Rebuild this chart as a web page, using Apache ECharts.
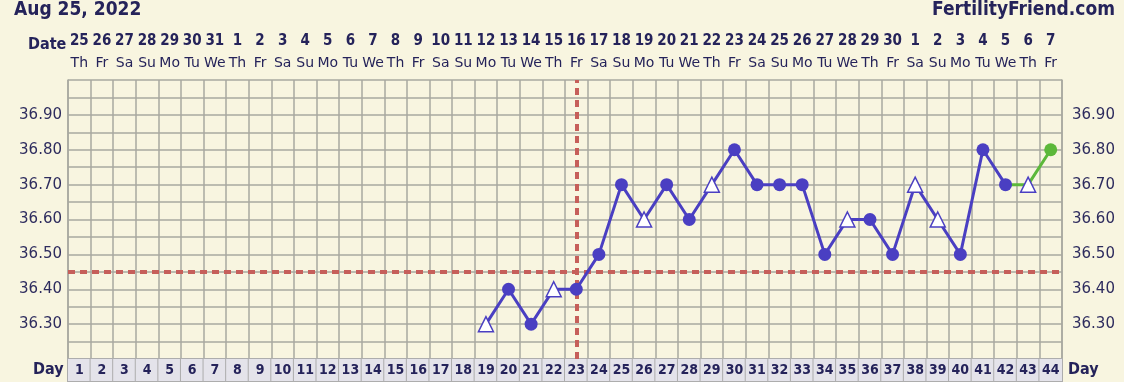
<!DOCTYPE html>
<html>
<head>
<meta charset="utf-8">
<script src="https://cdn.jsdelivr.net/npm/echarts@6/dist/echarts.min.js"></script>
<style>
html,body{margin:0;padding:0;background:#f8f5e0;}
#c{width:1124px;height:382px;}
</style>
</head>
<body>
<div id="c"></div>
<script>
var days = ['1','2','3','4','5','6','7','8','9','10','11','12','13','14','15','16','17','18','19','20','21','22','23','24','25','26','27','28','29','30','31','32','33','34','35','36','37','38','39','40','41','42','43','44'];
var dates = ['25','26','27','28','29','30','31','1','2','3','4','5','6','7','8','9','10','11','12','13','14','15','16','17','18','19','20','21','22','23','24','25','26','27','28','29','30','1','2','3','4','5','6','7'];
var weekdays = ['Th','Fr','Sa','Su','Mo','Tu','We','Th','Fr','Sa','Su','Mo','Tu','We','Th','Fr','Sa','Su','Mo','Tu','We','Th','Fr','Sa','Su','Mo','Tu','We','Th','Fr','Sa','Su','Mo','Tu','We','Th','Fr','Sa','Su','Mo','Tu','We','Th','Fr'];
// temperatures for days 1..44 (null = no reading)
var temps = [null,null,null,null,null,null,null,null,null,null,null,null,null,null,null,null,null,null,
  36.30,36.40,36.30,36.40,36.40,36.50,36.70,36.60,36.70,36.60,36.70,36.80,36.70,36.70,36.70,36.50,36.60,36.60,36.50,36.70,36.60,36.50,36.80,36.70,36.70,36.80];
// marker kind: C = filled circle, T = open triangle
var kinds = [null,null,null,null,null,null,null,null,null,null,null,null,null,null,null,null,null,null,
  'T','C','C','T','C','C','C','T','C','C','T','C','C','C','C','C','T','C','C','T','T','C','C','C','T','C'];
var yLabels = ['36.30','36.40','36.50','36.60','36.70','36.80','36.90'];
var coverline = 36.45;
var ovulationDay = '23';
var blueLastDay = 42; // blue line ends here, green continues

var BLUE = '#4a3fc2', GREEN = '#5cb83a', RED = '#c65f5a', NAVY = '#25235a', GRID = '#a9a8a0';

var blueData = [], greenData = [];
for (var i = 0; i < days.length; i++) {
  var d = i + 1, v = temps[i], k = kinds[i];
  var item = null;
  if (v != null) {
    item = k === 'T'
      ? {value: v, symbol: 'triangle', symbolSize: 15, itemStyle: {color: '#ffffff', borderColor: BLUE, borderWidth: 1.5}}
      : {value: v, symbol: 'circle', symbolSize: 13, itemStyle: {color: BLUE}};
  }
  blueData.push(d <= blueLastDay ? item : null);
  if (d < blueLastDay || v == null) { greenData.push(null); }
  else if (d === blueLastDay) { greenData.push({value: v, symbol: 'none'}); }
  else if (k === 'T') { greenData.push({value: v, symbol: 'triangle', symbolSize: 15, itemStyle: {color: '#ffffff', borderColor: BLUE, borderWidth: 1.5}}); }
  else { greenData.push({value: v, symbol: 'circle', symbolSize: 13, itemStyle: {color: GREEN}}); }
}

function yFmt(v) {
  var s = (Math.round(v * 100) / 100).toFixed(2);
  return yLabels.indexOf(s) >= 0 ? s : '';
}

var chart = echarts.init(document.getElementById('c'));
chart.setOption({
  backgroundColor: '#f8f5e0',
  animation: false,
  grid: {left: 68, right: 62, top: 80, bottom: 22, containLabel: false},
  xAxis: [
    {
      type: 'category', data: days, position: 'bottom',
      axisLine: {show: true, lineStyle: {color: GRID, width: 1.5}},
      axisTick: {show: false},
      splitLine: {show: true, interval: 0, lineStyle: {color: GRID, width: 1.5}},
      axisLabel: {
        interval: 0, margin: 0, width: 22.6, height: 22, lineHeight: 23, align: 'center', verticalAlign: 'top',
        backgroundColor: '#e4e3ea', borderColor: '#adadad', borderWidth: 1,
        fontFamily: 'DejaVu Sans Condensed, DejaVu Sans', fontWeight: 'bold', fontSize: 14, color: NAVY
      }
    },
    {
      type: 'category', data: weekdays, position: 'top', gridIndex: 0,
      axisLine: {show: false}, axisTick: {show: false}, splitLine: {show: false},
      axisLabel: {interval: 0, margin: 10, fontFamily: 'DejaVu Sans', fontSize: 14, color: NAVY}
    },
    {
      type: 'category', data: dates, position: 'top', gridIndex: 0, offset: 21,
      axisLine: {show: false}, axisTick: {show: false}, splitLine: {show: false},
      axisLabel: {interval: 0, margin: 10, fontFamily: 'DejaVu Sans Condensed, DejaVu Sans', fontWeight: 'bold', fontSize: 15, color: NAVY}
    }
  ],
  yAxis: [
    {
      type: 'value', min: 36.2, max: 37.0, interval: 0.05, position: 'left',
      axisLine: {show: true, lineStyle: {color: GRID, width: 1.5}},
      axisTick: {show: false},
      splitLine: {show: true, lineStyle: {color: GRID, width: 1.5}},
      axisLabel: {margin: 6, formatter: yFmt, fontFamily: 'DejaVu Sans', fontSize: 15, color: '#2e2c5e'}
    },
    {
      type: 'value', min: 36.2, max: 37.0, interval: 0.05, position: 'right',
      axisLine: {show: true, lineStyle: {color: GRID, width: 1.5}},
      axisTick: {show: false},
      splitLine: {show: false},
      axisLabel: {margin: 10, formatter: yFmt, fontFamily: 'DejaVu Sans', fontSize: 15, color: '#2e2c5e'}
    }
  ],
  graphic: [
    {type: 'text', left: 14, top: 1, style: {text: 'Aug 25, 2022', font: 'bold 19px "DejaVu Sans Condensed", "DejaVu Sans"', fill: NAVY}},
    {type: 'text', right: 9, top: 1, style: {text: 'FertilityFriend.com', font: 'bold 19px "DejaVu Sans Condensed", "DejaVu Sans"', fill: NAVY}},
    {type: 'text', left: 28, top: 37, style: {text: 'Date', font: 'bold 16px "DejaVu Sans Condensed", "DejaVu Sans"', fill: NAVY}},
    {type: 'text', left: 33, top: 362, style: {text: 'Day', font: 'bold 16px "DejaVu Sans Condensed", "DejaVu Sans"', fill: NAVY}},
    {type: 'text', left: 1068, top: 362, style: {text: 'Day', font: 'bold 16px "DejaVu Sans Condensed", "DejaVu Sans"', fill: NAVY}}
  ],
  series: [
    {
      type: 'line', xAxisIndex: 0, yAxisIndex: 0, data: greenData, z: 3,
      connectNulls: false, lineStyle: {color: GREEN, width: 3}, itemStyle: {color: GREEN}
    },
    {
      type: 'line', xAxisIndex: 0, yAxisIndex: 0, data: blueData, z: 4,
      connectNulls: false, lineStyle: {color: BLUE, width: 3}, itemStyle: {color: BLUE},
      markLine: {
        silent: true, symbol: 'none', label: {show: false}, z: 2,
        lineStyle: {color: RED, width: 4, type: [7, 5], opacity: 1},
        emphasis: {disabled: true},
        data: [{yAxis: coverline}, {xAxis: ovulationDay}]
      }
    }
  ]
});
</script>
</body>
</html>
